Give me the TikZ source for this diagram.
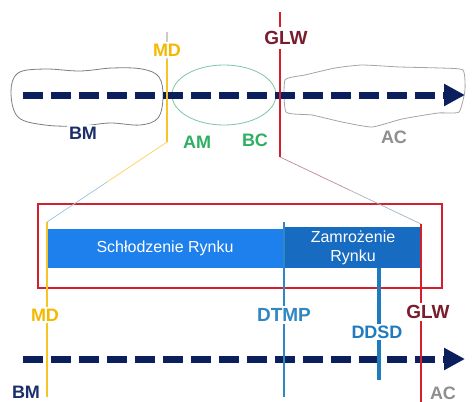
\documentclass[tikz,border=0pt]{standalone}
\usepackage{fontspec}
\setmainfont{Liberation Sans}
\usetikzlibrary{arrows.meta,positioning,calc}

\definecolor{navy}{HTML}{0B1F5C}
\definecolor{bmtext}{HTML}{1D2F6A}
\definecolor{mdgold}{HTML}{F5B800}
\definecolor{glwred}{HTML}{D3202E}
\definecolor{glwtext}{HTML}{7A1C2C}
\definecolor{amgreen}{HTML}{2EAF62}
\definecolor{amring}{HTML}{7FC4A4}
\definecolor{blobgray}{HTML}{7E7E7E}
\definecolor{acgray}{HTML}{8E8E8E}
\definecolor{coolblue}{HTML}{1E80EC}
\definecolor{freezeblue}{HTML}{176BC0}
\definecolor{dtmpblue}{HTML}{2F88C2}
\definecolor{ddsdblue}{HTML}{1F7BBE}

\tikzset{
  timeline/.style={line width=7pt, navy, dash pattern=on 20pt off 8pt,
    -{Triangle[length=21pt,width=21pt]}},
  lbl/.style={font=\fontsize{18}{18}\selectfont\bfseries, inner sep=2pt, fill=white},
  biglbl/.style={lbl, font=\fontsize{19}{19}\selectfont\bfseries},
  marker/.style={line width=2.5pt},
  zoomline/.style={line width=0.7pt},
  bar/.style={inner sep=0pt, text=white, align=center,
    font=\fontsize{16}{19}\selectfont},
}

\begin{document}
\begin{tikzpicture}[x=1pt,y=-1pt]
\useasboundingbox (0,0) rectangle (472,402);
% phases along the upper time line
\draw[blobgray, line width=0.8pt] plot[smooth cycle, tension=0.6] coordinates
  {(11,92) (18,73) (45,69) (80,71) (112,68) (142,69) (159,77) (163,97)
   (158,118) (140,125) (110,123) (80,126) (45,125) (18,117)};
\draw[acgray!80, line width=0.8pt] plot[smooth cycle, tension=0.3] coordinates
  {(285,80) (305,75) (335,68) (362,65) (400,67) (440,68) (463,70)
   (465,90) (459,112) (438,113) (402,119) (372,127) (342,122) (312,115) (286,112)};
\draw[amring, line width=0.8pt] (224,95) ellipse [x radius=52, y radius=30];
\node[lbl, text=bmtext] (bm) at (83,133) {BM};
\node[lbl, text=amgreen, fill=none] (am) at (197,142) {AM};
\node[lbl, text=amgreen, fill=none] (bc) at (255,140) {BC};
\node[lbl, text=acgray] (ac) at (394,137) {AC};
% upper time line
\coordinate (top start) at (23,95);
\coordinate (top end) at (465,95);
\draw[timeline] (top start) -- (top end);
% upper markers
\coordinate (md tick) at (167,32);
\coordinate (md top) at (167,60);
\coordinate (md bot) at (167,142);
\coordinate (glw top) at (280,12);
\coordinate (glw bot) at (280,157);
\draw[marker, gray!40] (md tick) -- (md top);
\draw[marker, mdgold!85] (md top) -- (md bot);
\draw[marker, glwred] (glw top) -- (glw bot);
\node[lbl, text=mdgold] (md) at (167,50) {MD};
\node[biglbl, text=glwtext, inner ysep=4pt] (glw) at (286,38) {GLW};
% market phases
\draw[glwred, line width=1.6pt] (38,204) rectangle (442,288);
\node[bar, fill=coolblue, minimum width=238pt, minimum height=39pt] (cool)
  at (165,248.5) {Schłodzenie Rynku};
\node[bar, fill=freezeblue, minimum width=138pt, minimum height=41pt] (freeze)
  at (353,247.5) {Zamrożenie\\Rynku};
% zoom lines
\coordinate (md low) at (47,222);
\coordinate (glw low) at (421,224);
\draw[zoomline, mdgold!60] (md bot) -- ($(md bot)!0.5!(md low)$);
\draw[zoomline, dtmpblue!45] ($(md bot)!0.5!(md low)$) -- (md low);
\draw[zoomline, glwred!40!gray!70] (glw bot) -- ($(glw bot)!0.5!(glw low)$);
\draw[zoomline, dtmpblue!40!gray!60] ($(glw bot)!0.5!(glw low)$) -- (glw low);
% lower time line
\coordinate (low start) at (23,359);
\coordinate (low end) at (465,359);
\draw[timeline] (low start) -- (low end);
% lower markers
\coordinate (md end) at (47,397);
\coordinate (dtmp top) at (284,222);
\coordinate (dtmp end) at (284,397);
\coordinate (ddsd top) at (379,268);
\coordinate (ddsd end) at (379,380);
\coordinate (glw end) at (421,402);
\draw[marker, mdgold!85] (md low) -- (md end);
\draw[marker, dtmpblue] (dtmp top) -- (dtmp end);
\draw[marker, ddsdblue, line width=4pt] (ddsd top) -- (ddsd end);
\draw[marker, glwred] (glw low) -- (glw end);
\node[lbl, text=mdgold] (md 2) at (45,315) {MD};
\node[biglbl, text=dtmpblue] (dtmp) at (284,315) {DTMP};
\node[lbl, text=ddsdblue] (ddsd) at (377,332) {DDSD};
\node[biglbl, text=glwtext] (glw 2) at (428,312) {GLW};
\node[lbl, text=bmtext, fill=none] (bm 2) at (26,392) {BM};
\node[lbl, text=acgray, fill=none] (ac 2) at (443,393) {AC};
\end{tikzpicture}
\end{document}
